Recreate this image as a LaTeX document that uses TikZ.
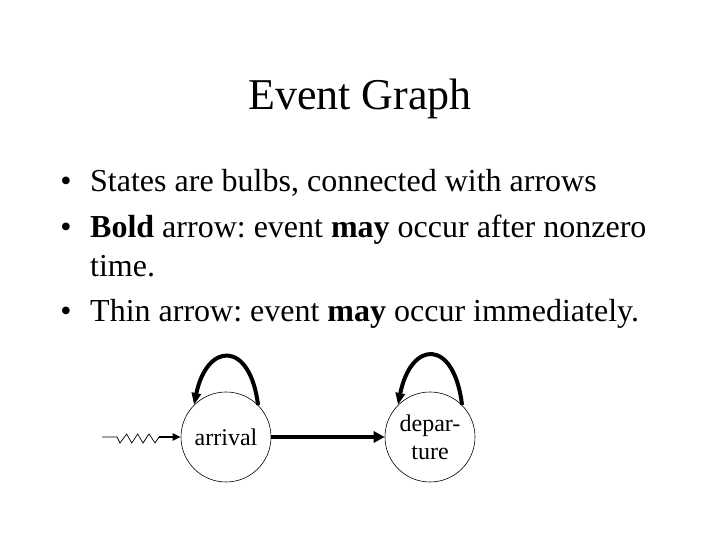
\documentclass[tikz,border=0pt]{standalone}
\usepackage{fontspec}
\setmainfont{Liberation Serif}
\usetikzlibrary{arrows.meta}
\frenchspacing
\begin{document}
\begin{tikzpicture}[x=1pt,y=1pt]
        \tikzstyle{title}=[font=\fontsize{44}{52}\selectfont, anchor=base, inner sep=0]
        \tikzstyle{textline}=[font=\fontsize{32}{39}\selectfont, anchor=base west, inner sep=0]
        \tikzstyle{dot}=[font=\fontsize{32}{39}\selectfont, anchor=base, inner sep=0]
        \tikzstyle{state}=[circle, draw, line width=0.6pt, minimum size=90pt, inner sep=0, align=center, font=\fontsize{24}{28}\selectfont]
        \tikzstyle{boldarrow}=[line width=4pt, -{Triangle[length=11pt,width=11pt]}]
        \tikzstyle{selfloop}=[line width=4pt, -{Triangle[length=12pt,width=9pt]}]
        \tikzstyle{inarrow}=[line width=2.2pt, -{Triangle[length=8pt,width=7pt]}]
        \useasboundingbox (0,0) rectangle (720,540);
        % title and bullets
        \node[title] (head) at (360,430) {Event Graph};
        \node[dot] (d1) at (66,348) {\textbullet};
        \node[textline] (l1) at (90,348) {States are bulbs, connected with arrows};
        \node[dot] (d2) at (66,302) {\textbullet};
        \node[textline] (l2) at (90,302) {\textbf{Bold} arrow: event \textbf{may} occur after nonzero};
        \node[textline] (l2b) at (90,263) {time.};
        \node[dot] (d3) at (66,218) {\textbullet};
        \node[textline] (l3) at (90,218) {Thin arrow: event \textbf{may} occur immediately.};
        % event graph
        \node[state] (arrival) at (226,103) {arrival};
        \node[state] (departure) at (430,103) {depar-\\ture};
        \draw[boldarrow] (arrival) -- (departure);
        \draw[selfloop] (arrival.45) .. controls +(-8,65) and +(13,63) .. (arrival.135);
        \draw[selfloop] (departure.45) .. controls +(-8,67) and +(13,65) .. (departure.135);
        % zigzag input
        \coordinate (src) at (102,103);
        \coordinate (zz) at (159,103);
        \draw[line width=0.7pt] (src) -- (117,103) -- (120,97) -- (126.7,106) -- (131.7,97)
          -- (137.7,106) -- (143,97) -- (149,106) -- (155,97) -- (zz);
        \draw[inarrow] (zz) -- (arrival);
      \end{tikzpicture}
\end{document}
